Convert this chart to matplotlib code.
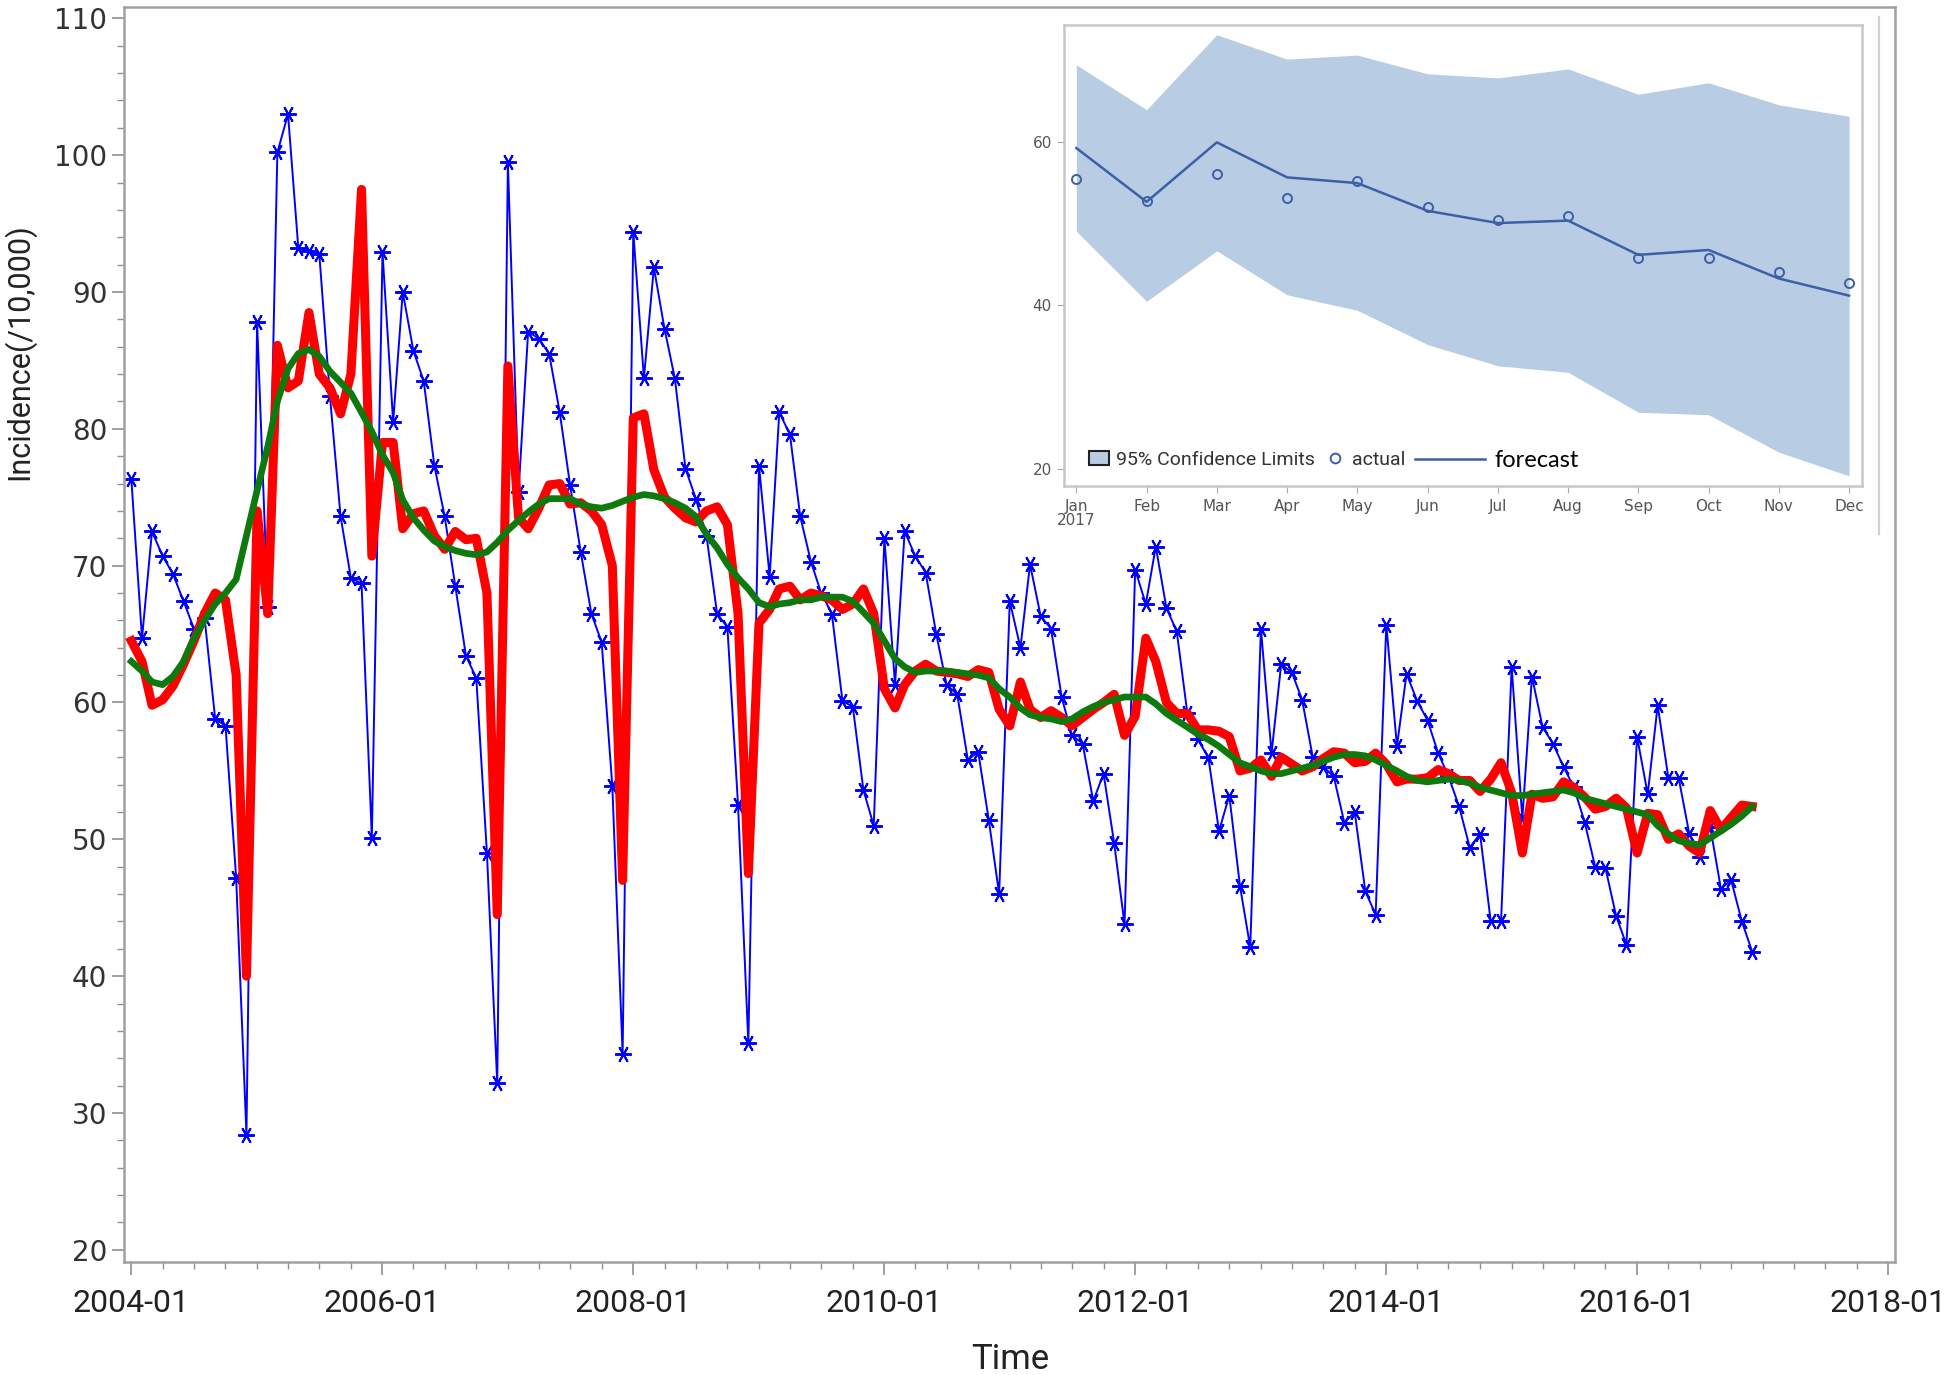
import matplotlib
matplotlib.use('Agg')
import matplotlib.pyplot as plt
import matplotlib.dates as mdates
from matplotlib.lines import Line2D
from matplotlib.patches import Patch, Rectangle
import pandas as pd

# monthly incidence (/10,000), 2004-01 .. 2016-12
observed = [
    76.3, 64.7, 72.5, 70.7, 69.4, 67.4, 65.4, 66.2, 58.8, 58.3, 47.2, 28.4,   # 2004
    87.8, 67.0, 100.2, 103.0, 93.2, 93.0, 92.8, 82.4, 73.6, 69.1, 68.7, 50.1,  # 2005
    92.9, 80.5, 90.0, 85.7, 83.5, 77.3, 73.6, 68.5, 63.4, 61.8, 49.0, 32.2,   # 2006
    99.5, 75.4, 87.1, 86.6, 85.5, 81.2, 75.9, 71.0, 66.5, 64.4, 53.9, 34.3,   # 2007
    94.4, 83.7, 91.8, 87.3, 83.7, 77.1, 74.9, 72.2, 66.5, 65.5, 52.5, 35.1,   # 2008
    77.3, 69.2, 81.2, 79.6, 73.6, 70.3, 68.0, 66.5, 60.1, 59.7, 53.6, 51.0,   # 2009
    72.0, 61.3, 72.5, 70.7, 69.5, 65.0, 61.3, 60.6, 55.8, 56.4, 51.4, 46.0,   # 2010
    67.4, 64.0, 70.1, 66.3, 65.4, 60.4, 57.6, 57.0, 52.8, 54.8, 49.7, 43.8,   # 2011
    69.7, 67.2, 71.4, 66.9, 65.2, 59.2, 57.3, 56.0, 50.6, 53.2, 46.6, 42.1,   # 2012
    65.4, 56.3, 62.8, 62.2, 60.2, 56.0, 55.3, 54.6, 51.2, 52.0, 46.2, 44.5,   # 2013
    65.7, 56.8, 62.1, 60.1, 58.7, 56.3, 54.6, 52.4, 49.4, 50.4, 44.0, 44.0,   # 2014
    62.6, 51.5, 61.9, 58.2, 57.0, 55.3, 53.8, 51.3, 48.0, 47.9, 44.4, 42.3,   # 2015
    57.5, 53.3, 59.8, 54.5, 54.5, 50.4, 48.7, 50.9, 46.4, 47.0, 44.0, 41.8,   # 2016
]

adjusted = [
    64.5, 63.0, 59.8, 60.2, 61.2, 62.8, 64.5, 66.5, 68.0, 67.5, 62.0, 40.0,
    74.0, 66.5, 86.1, 83.0, 83.5, 88.5, 84.0, 83.0, 81.1, 84.0, 97.5, 70.7,
    79.0, 79.0, 72.7, 73.8, 74.0, 72.2, 71.2, 72.5, 71.9, 72.0, 68.0, 44.5,
    84.6, 73.5, 72.7, 74.2, 75.9, 76.0, 74.5, 74.6, 74.0, 73.0, 70.0, 47.0,
    80.8, 81.1, 77.0, 75.0, 74.2, 73.5, 73.2, 74.0, 74.3, 73.0, 66.5, 47.5,
    65.8, 66.8, 68.3, 68.5, 67.5, 68.0, 67.8, 67.5, 66.8, 67.2, 68.3, 66.5,
    61.0, 59.6, 61.3, 62.3, 62.8, 62.3, 62.2, 62.1, 61.9, 62.4, 62.2, 59.5,
    58.3, 61.5, 59.5, 58.9, 59.4, 58.9, 58.3, 58.9, 59.5, 60.0, 60.6, 57.6,
    59.0, 64.7, 63.0, 60.0, 59.2, 59.2, 58.0, 58.0, 57.9, 57.5, 55.0, 55.2,
    55.8, 54.6, 56.0, 55.5, 55.0, 55.3, 55.9, 56.4, 56.3, 55.6, 55.7, 56.3,
    55.5, 54.2, 54.4, 54.4, 54.5, 55.1, 54.8, 54.3, 54.3, 53.5, 54.4, 55.6,
    53.4, 49.0, 53.3, 53.0, 53.1, 54.2, 53.8, 53.1, 52.2, 52.4, 53.0, 52.3,
    49.0, 51.9, 51.8, 50.0, 50.4, 49.5, 49.0, 52.1, 50.7, 51.6, 52.5, 52.4,
]

trend = [
    63.0, 62.3, 61.5, 61.3, 61.9, 63.0, 64.7, 66.0, 67.2, 68.0, 69.0, 72.2,
    75.5, 78.7, 82.0, 84.4, 85.5, 85.8, 85.3, 84.2, 83.4, 82.6, 81.2, 79.8,
    78.1, 76.8, 74.8, 73.5, 72.6, 71.8, 71.4, 71.1, 70.9, 70.8, 71.0, 71.7,
    72.6, 73.3, 73.9, 74.5, 74.9, 74.9, 74.9, 74.5, 74.3, 74.2, 74.4, 74.7,
    75.0, 75.2, 75.1, 74.9, 74.6, 74.2, 73.6, 72.3, 71.3, 70.1, 69.1, 68.3,
    67.3, 67.0, 67.2, 67.3, 67.5, 67.5, 67.7, 67.7, 67.7, 67.4, 66.6, 65.8,
    64.5, 63.2, 62.6, 62.2, 62.3, 62.3, 62.3, 62.2, 62.1, 62.0, 61.8, 61.0,
    60.4, 59.6, 59.1, 58.9, 58.8, 58.6, 58.8, 59.3, 59.7, 60.0, 60.2, 60.4,
    60.4, 60.4, 59.9, 59.2, 58.7, 58.2, 57.7, 57.3, 56.8, 56.2, 55.6, 55.3,
    55.0, 54.8, 54.8, 55.0, 55.2, 55.4, 55.7, 56.0, 56.2, 56.2, 56.1, 55.8,
    55.4, 55.0, 54.6, 54.3, 54.2, 54.3, 54.4, 54.3, 54.1, 53.8, 53.6, 53.4,
    53.2, 53.2, 53.3, 53.4, 53.5, 53.6, 53.4, 53.0, 52.8, 52.6, 52.4, 52.2,
    52.0, 51.8, 51.0, 50.4, 49.9, 49.7, 49.6, 50.1, 50.6, 51.1, 51.7, 52.4,
]

# 2017 forecast (inset)
fc_labels = ['Jan\n2017', 'Feb', 'Mar', 'Apr', 'May', 'Jun',
             'Jul', 'Aug', 'Sep', 'Oct', 'Nov', 'Dec']
fc_upper = [69.5, 64.0, 73.2, 70.2, 70.7, 68.4, 67.9, 69.0, 65.9, 67.3, 64.6, 63.2]
fc_lower = [49.1, 40.5, 46.7, 41.3, 39.4, 35.2, 32.6, 31.8, 26.9, 26.6, 22.0, 19.1]
fc_value = [59.3, 52.7, 60.0, 55.7, 55.0, 51.6, 50.1, 50.4, 46.2, 46.8, 43.3, 41.2]
fc_actual = [55.5, 52.8, 56.1, 53.2, 55.2, 52.1, 50.5, 51.0, 45.8, 45.8, 44.1, 42.7]

narrow = ['Roboto', 'DejaVu Sans']
dates = pd.date_range('2004-01-01', periods=len(observed), freq='MS')

fig = plt.figure(figsize=(19.46, 13.75), dpi=100)
ax = fig.add_axes([0.0638, 0.0821, 0.9102, 0.9125])

ax.plot(dates, observed, color='#0000ff', lw=1.4, marker=(6, 2, 90),
        markersize=12, markeredgewidth=1.4, zorder=2)
ax.plot(dates, adjusted, color='#ff0000', lw=6.5, solid_joinstyle='round', zorder=3)
ax.plot(dates, trend, color='#0e7a0e', lw=4.8, solid_joinstyle='round', zorder=4)

ax.set_xlim(pd.Timestamp('2003-12-11'), pd.Timestamp('2018-01-22'))
ax.set_ylim(19.1, 110.8)
ax.set_yticks(range(20, 111, 10))
ax.set_yticks(range(20, 111, 2), minor=True)
ax.xaxis.set_major_locator(mdates.YearLocator(2))
ax.xaxis.set_minor_locator(mdates.MonthLocator(bymonth=[1, 4, 7, 10]))
ax.xaxis.set_major_formatter(mdates.DateFormatter('%Y-%m'))

for s in ax.spines.values():
    s.set_color('#a0a0a0')
    s.set_linewidth(1.8)
ax.tick_params(which='major', length=9, width=1.2, color='#909090')
ax.tick_params(which='minor', length=5, width=1.0, color='#909090')
ax.tick_params(axis='y', labelsize=20, labelcolor='#333333', pad=3)
ax.tick_params(axis='x', labelsize=23, labelcolor='#222222', pad=10)
for lab in ax.get_xticklabels():
    lab.set_family(narrow)

ax.set_xlabel('Time', family=narrow, fontsize=25, color='#222222', labelpad=18)
ax.set_ylabel('Incidence(/10,000)', family=narrow, fontsize=22, color='#222222')
ax.yaxis.set_label_coords(-0.050, 0.726)

# white panel of the pasted forecast chart
fig.add_artist(Rectangle((0.524, 0.612), 0.4416, 0.381, transform=fig.transFigure,
                         facecolor='white', edgecolor='none', zorder=1))
fig.add_artist(Line2D([0.9656, 0.9656], [0.612, 0.988], transform=fig.transFigure,
                      color='#d0d0d0', lw=1.5, zorder=1))

ins = fig.add_axes([0.5466, 0.6462, 0.4101, 0.3357], zorder=2)
xs = list(range(len(fc_labels)))
ins.fill_between(xs, fc_lower, fc_upper, color='#b8cde4', lw=0)
ins.plot(xs, fc_value, color='#3d5fa6', lw=1.8)
ins.plot(xs, fc_actual, ls='none', marker='o', markersize=6.5,
         markerfacecolor='none', markeredgecolor='#3d5fa6', markeredgewidth=1.4)
ins.set_xlim(-0.18, 11.18)
ins.set_ylim(17.8, 74.4)
ins.set_xticks(xs)
ins.set_xticklabels(fc_labels, fontsize=11, color='#555555', linespacing=0.95)
ins.set_yticks([20, 40, 60])
ins.tick_params(axis='y', labelsize=11, labelcolor='#555555', length=5, color='#aaaaaa')
ins.tick_params(axis='x', length=5, color='#aaaaaa', pad=4)
for s in ins.spines.values():
    s.set_color('#c8c8c8')
    s.set_linewidth(1.8)

handles = [Patch(facecolor='#b8cde4', edgecolor='#222222', lw=1.5),
           Line2D([], [], ls='none', marker='o', markersize=7, markerfacecolor='none',
                  markeredgecolor='#3d5fa6', markeredgewidth=1.4),
           Line2D([], [], color='#3d5fa6', lw=1.8)]
leg1 = ins.legend(handles[:2], ['95% Confidence Limits', 'actual'], ncol=2,
                  loc='lower left', bbox_to_anchor=(0.01, 0.0), frameon=False,
                  prop={'family': narrow, 'size': 14}, handlelength=1.0,
                  handletextpad=0.4, columnspacing=0.5, labelcolor='#333333')
ins.add_artist(leg1)
leg2 = ins.legend(handles[2:], ['forecast'], loc='lower left',
                  bbox_to_anchor=(0.413, -0.012), frameon=False,
                  prop={'family': ['Lato', 'DejaVu Sans'], 'size': 17},
                  handlelength=3.0, handletextpad=0.4, labelcolor='black')

fig.savefig('out.png', dpi=100)
